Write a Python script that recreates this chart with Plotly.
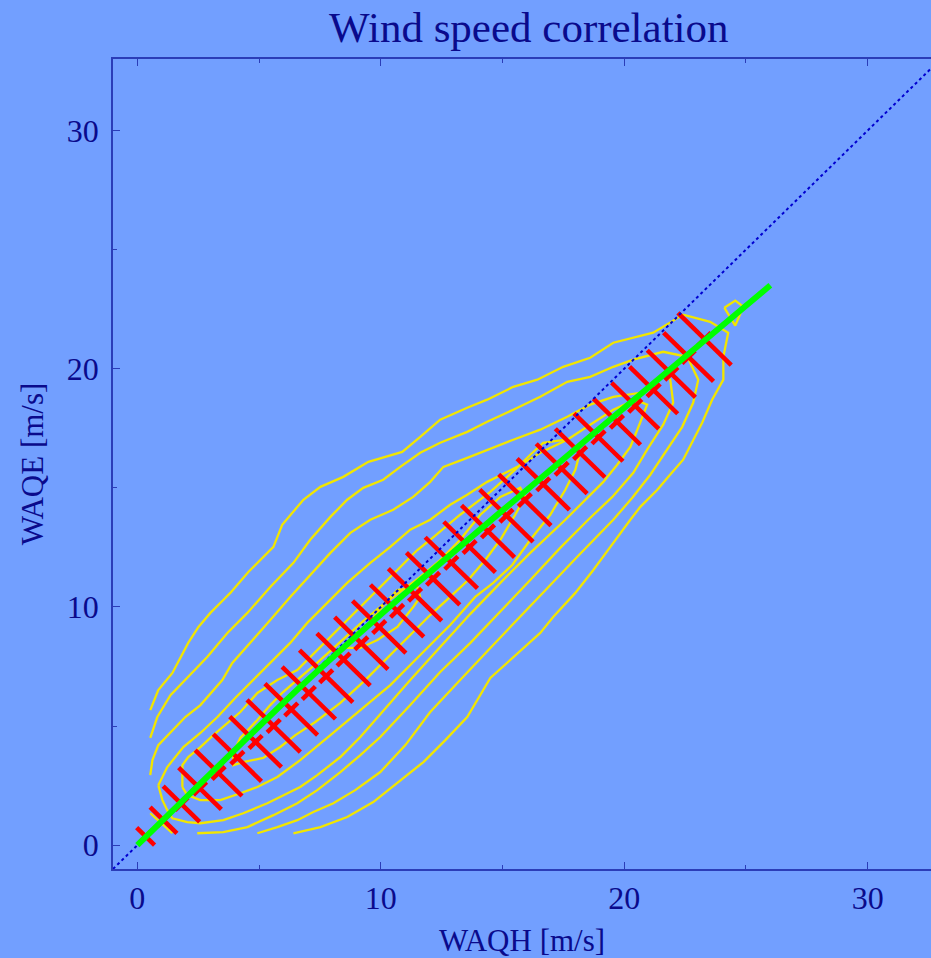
import math
import plotly.graph_objects as go

# ---------------- data ----------------
# yellow density contours (outer -> inner), data units [m/s]
L1_x = [0.53,0.86,1.44,2.09,2.51,3.00,3.53,3.82,4.56,5.59,5.95,6.82,7.52,8.46,9.49,10.88,11.62,12.44,13.55,14.37,15.44,16.43,17.49,18.60,19.55,21.19,22.42,23.53,24.27,24.07,24.07,23.61,23.20,22.83,22.42,21.81,21.36,20.66,20.25,19.43,18.73,17.99,17.08,16.55,15.32,14.50,13.55,12.65,11.75,10.68,9.69,8.62,7.52,6.41]
L1_y = [5.67,6.51,7.23,8.49,9.16,9.75,10.29,10.59,11.47,12.52,13.45,14.50,15.04,15.46,16.09,16.51,17.14,17.86,18.36,18.70,19.24,19.54,20.08,20.46,21.09,21.51,22.27,21.97,21.51,20.50,19.54,18.70,17.73,17.02,16.18,15.46,14.92,14.20,13.66,12.52,11.55,10.59,9.58,8.91,7.77,7.02,5.38,4.41,3.49,2.61,1.81,1.18,0.76,0.50]

L2_x = [0.53,0.82,1.36,1.97,2.87,3.70,4.52,5.46,6.41,7.10,7.93,8.62,9.28,10.10,10.80,11.62,12.44,13.55,14.37,15.44,16.55,17.66,18.60,19.55,20.37,21.60,22.59,23.04,
        22.83,22.38,21.77,21.07,20.33,19.55,18.19,16.96,15.73,14.50,13.26,12.03,11.01,9.98,8.95,8.05,7.23,6.57,5.75,4.93]
L2_y = [4.50,5.38,6.30,6.93,7.90,8.91,9.75,10.84,11.85,12.82,13.78,14.50,15.00,15.34,15.88,16.47,16.89,17.35,17.77,18.28,18.82,19.45,19.66,20.08,20.38,20.71,20.50,19.54,
        18.57,17.56,16.60,15.55,14.58,13.66,12.23,10.92,9.58,8.28,6.93,5.59,4.20,3.07,2.31,1.76,1.39,1.05,0.76,0.50]

L3_x = [0.53,0.62,0.86,1.44,1.97,2.59,3.12,3.49,3.90,4.64,5.46,6.28,7.19,7.93,8.75,9.57,10.51,11.33,12.03,12.57,13.55,14.37,15.44,16.55,17.66,18.60,19.55,20.66,21.60,21.89,
        22.01,21.60,20.94,20.37,19.51,18.52,17.37,16.14,14.91,13.68,12.44,11.21,9.98,9.16,8.34,7.39,6.57,5.59,4.52,3.53,2.46]
L3_y = [2.94,3.57,4.20,4.83,5.38,5.88,6.51,6.93,7.65,8.49,9.45,10.42,11.43,12.27,13.11,13.66,14.08,14.62,15.25,15.88,16.26,16.60,17.02,17.44,17.98,18.49,18.82,18.99,19.75,19.54,
        18.57,17.65,16.60,15.63,14.62,13.66,12.48,11.13,9.79,8.49,7.27,5.88,4.54,3.78,3.07,2.31,1.76,1.26,0.76,0.55,0.50]

L4_x = [0.86,1.03,1.23,1.44,2.05,2.59,3.53,4.35,5.34,6.16,6.69,7.39,8.34,9.16,9.98,11.21,12.44,13.68,14.91,16.14,17.58,18.40,19.14,19.71,20.25,20.57,20.94,20.45,19.55,18.60,
        17.66,16.55,15.61,14.37,13.55,12.85,12.03,11.21,10.39,9.57,8.62,7.80,6.98,6.28,5.46,4.76,4.02,3.29,2.59,1.89,1.23,0.86]
L4_y = [2.52,1.89,1.47,1.13,0.97,0.92,1.05,1.34,1.76,2.18,2.44,2.94,3.70,4.54,5.50,6.93,8.32,9.71,11.01,12.27,13.66,14.50,15.25,15.97,16.72,17.52,18.49,18.70,18.28,17.65,
        17.02,16.47,15.88,15.25,14.71,14.29,13.66,13.24,12.52,11.85,11.01,10.17,9.33,8.49,7.65,6.93,6.18,5.38,4.71,4.12,3.28,2.52]

L5_x = [1.85,2.05,2.59,3.41,4.23,4.93,5.75,6.69,7.93,9.16,10.39,11.62,12.85,13.88,14.62,15.40,16.14,16.96,17.58,17.99,18.19,17.58,16.67,16.14,15.52,14.50,13.26,12.03,11.50,10.68,9.86,9.03,8.21,7.39,6.57,5.75,4.93,4.23,3.70,3.12,2.59,2.09,1.85,1.85]
L5_y = [2.44,2.10,1.89,1.89,2.18,2.44,2.86,3.57,4.62,5.67,6.72,7.98,9.24,10.42,11.01,11.76,12.82,13.87,14.92,15.76,16.51,17.02,16.89,16.39,15.76,14.83,13.87,12.82,12.39,11.55,10.71,9.87,9.03,8.19,7.35,6.93,6.39,5.59,5.13,4.62,4.12,3.70,3.36,2.44]

L6_x = [3.94,4.23,4.93,5.46,5.95,6.69,7.43,8.34,9.24,10.06,10.80,11.62,12.44,13.26,14.09,14.91,15.73,15.93,15.52,14.91,14.29,13.59,12.85,12.03,11.21,10.39,9.36,8.34,7.31,6.49,5.87,5.17,4.35,3.94,3.94]
L6_y = [3.87,4.50,5.25,5.88,6.39,7.02,7.69,8.53,9.37,10.08,10.63,11.26,11.97,12.82,13.87,14.62,15.00,14.62,13.87,12.82,11.97,11.13,10.42,9.66,8.82,7.98,6.93,5.97,5.17,4.62,4.12,3.66,3.49,3.36,3.87]

L7_x = [8.46,8.83,9.45,10.18,10.68,11.50,11.62,11.33,10.68,9.86,9.16,8.46]
L7_y = [8.28,8.78,9.24,10.17,10.71,10.84,10.42,10.00,9.16,8.61,8.28,8.28]

corner_x = [0.53, 1.44]
corner_y = [1.34, 0.50]

islet_x = [24.11, 24.56, 24.89, 24.56, 24.11]
islet_y = [22.56, 22.86, 22.61, 21.81, 22.56]

contours = [(L1_x, L1_y), (L2_x, L2_y), (L3_x, L3_y), (L4_x, L4_y),
            (L5_x, L5_y), (L6_x, L6_y), (L7_x, L7_y),
            (corner_x, corner_y), (islet_x, islet_y)]

# binned statistics along the diagonal: u = (x+y)/sqrt2, v = (y-x)/sqrt2
bin_u = [0.5,1.5,2.5,3.5,4.5,5.5,6.5,7.5,8.5,9.5,10.5,11.5,12.5,13.5,14.5,15.5,
         16.5,17.5,18.5,19.5,20.5,21.5,22.5,23.5,24.5,25.5,26.5,27.5,28.5,29.5,30.5,31.5]
bin_mean_v = [0.02,-0.02,-0.06,-0.14,-0.22,-0.31,-0.37,-0.42,-0.44,-0.46,-0.47,-0.48,-0.51,-0.55,-0.59,-0.63,
              -0.68,-0.74,-0.80,-0.87,-0.94,-1.01,-1.08,-1.15,-1.22,-1.29,-1.36,-1.42,-1.49,-1.52,-1.52,-1.45]
bin_std_v = [0.52,0.78,1.06,1.24,1.36,1.40,1.50,1.55,1.53,1.55,1.55,1.55,1.55,1.55,1.55,1.55,
             1.55,1.52,1.50,1.54,1.55,1.52,1.52,1.48,1.44,1.42,1.37,1.37,1.40,1.40,1.45,1.55]
bin_halfwidth_u = 0.38

# green fitted curve
fit_x = [0.0, 6.7, 10.8, 19.0, 26.0]
fit_y = [0.0, 6.65, 10.4, 17.5, 23.5]

# 1:1 reference line
diag = [-1.0, 34.0]

x_ticks = [0, 10, 20, 30]
y_ticks = [0, 10, 20, 30]

# ---------------- figure ----------------
BG = '#729FFF'
NAVY = '#0A0A8C'
AXC = '#2B3DB8'
FONT = 'Liberation Serif, Times New Roman, serif'

fig = go.Figure()

for cx, cy in contours:
    fig.add_trace(go.Scatter(x=cx, y=cy, mode='lines',
                             line=dict(color='#F2E600', width=2.3),
                             hoverinfo='skip', showlegend=False))

# red error crosses
s2 = math.sqrt(2.0)
rx, ry = [], []
for u, v, s in zip(bin_u, bin_mean_v, bin_std_v):
    for (uu, vv) in [(u, v - s), (u, v + s)]:
        rx.append((uu - vv) / s2); ry.append((uu + vv) / s2)
    rx.append(None); ry.append(None)
    for (uu, vv) in [(u - bin_halfwidth_u, v), (u + bin_halfwidth_u, v)]:
        rx.append((uu - vv) / s2); ry.append((uu + vv) / s2)
    rx.append(None); ry.append(None)
fig.add_trace(go.Scatter(x=rx, y=ry, mode='lines',
                         line=dict(color='#FF0000', width=4.5),
                         hoverinfo='skip', showlegend=False))

fig.add_trace(go.Scatter(x=diag, y=diag, mode='lines',
                         line=dict(color='#0000D0', width=2, dash='dot'),
                         hoverinfo='skip', showlegend=False))

fig.add_trace(go.Scatter(x=fit_x, y=fit_y, mode='lines',
                         line=dict(color='#00FF00', width=6, shape='spline', smoothing=0.6),
                         hoverinfo='skip', showlegend=False))

axis_common = dict(
    showgrid=False, zeroline=False, showline=True, linecolor=AXC, linewidth=1.5,
    ticks='inside', ticklen=7, tickwidth=1.2, tickcolor=AXC,
    tickfont=dict(family=FONT, size=32, color=NAVY),
    minor=dict(ticks='inside', ticklen=4, tickwidth=1.2, tickcolor=AXC, dtick=5, tick0=0),
)

fig.update_xaxes(range=[-1, 32.6], tickmode='array', tickvals=x_ticks,
                 ticktext=[str(t) for t in x_ticks], mirror='ticks',
                 title=dict(text='WAQH [m/s]', font=dict(family=FONT, size=31, color=NAVY), standoff=16),
                 **axis_common)
fig.update_yaxes(range=[-1, 33], tickmode='array', tickvals=y_ticks,
                 ticktext=[str(t) for t in y_ticks], mirror=False, ticklabelstandoff=6,
                 title=dict(text='WAQE [m/s]', font=dict(family=FONT, size=31, color=NAVY), standoff=14),
                 **axis_common)

fig.update_layout(
    width=931, height=958,
    margin=dict(l=113, r=0, t=59, b=89, autoexpand=False),
    paper_bgcolor=BG, plot_bgcolor=BG,
    title=dict(text='Wind speed correlation', x=0.568, xanchor='center',
               y=0.972, yref='container', yanchor='middle',
               font=dict(family=FONT, size=43, color=NAVY)),
    showlegend=False,
)

fig.write_html('out.html', config={'displayModeBar': False})

# remove default page margins so the 931x958 figure fills the window exactly
with open('out.html', 'r', encoding='utf-8') as f:
    html = f.read()
html = html.replace('<head>', '<head><style>html,body{margin:0;padding:0;overflow:hidden;}</style>', 1)
with open('out.html', 'w', encoding='utf-8') as f:
    f.write(html)
